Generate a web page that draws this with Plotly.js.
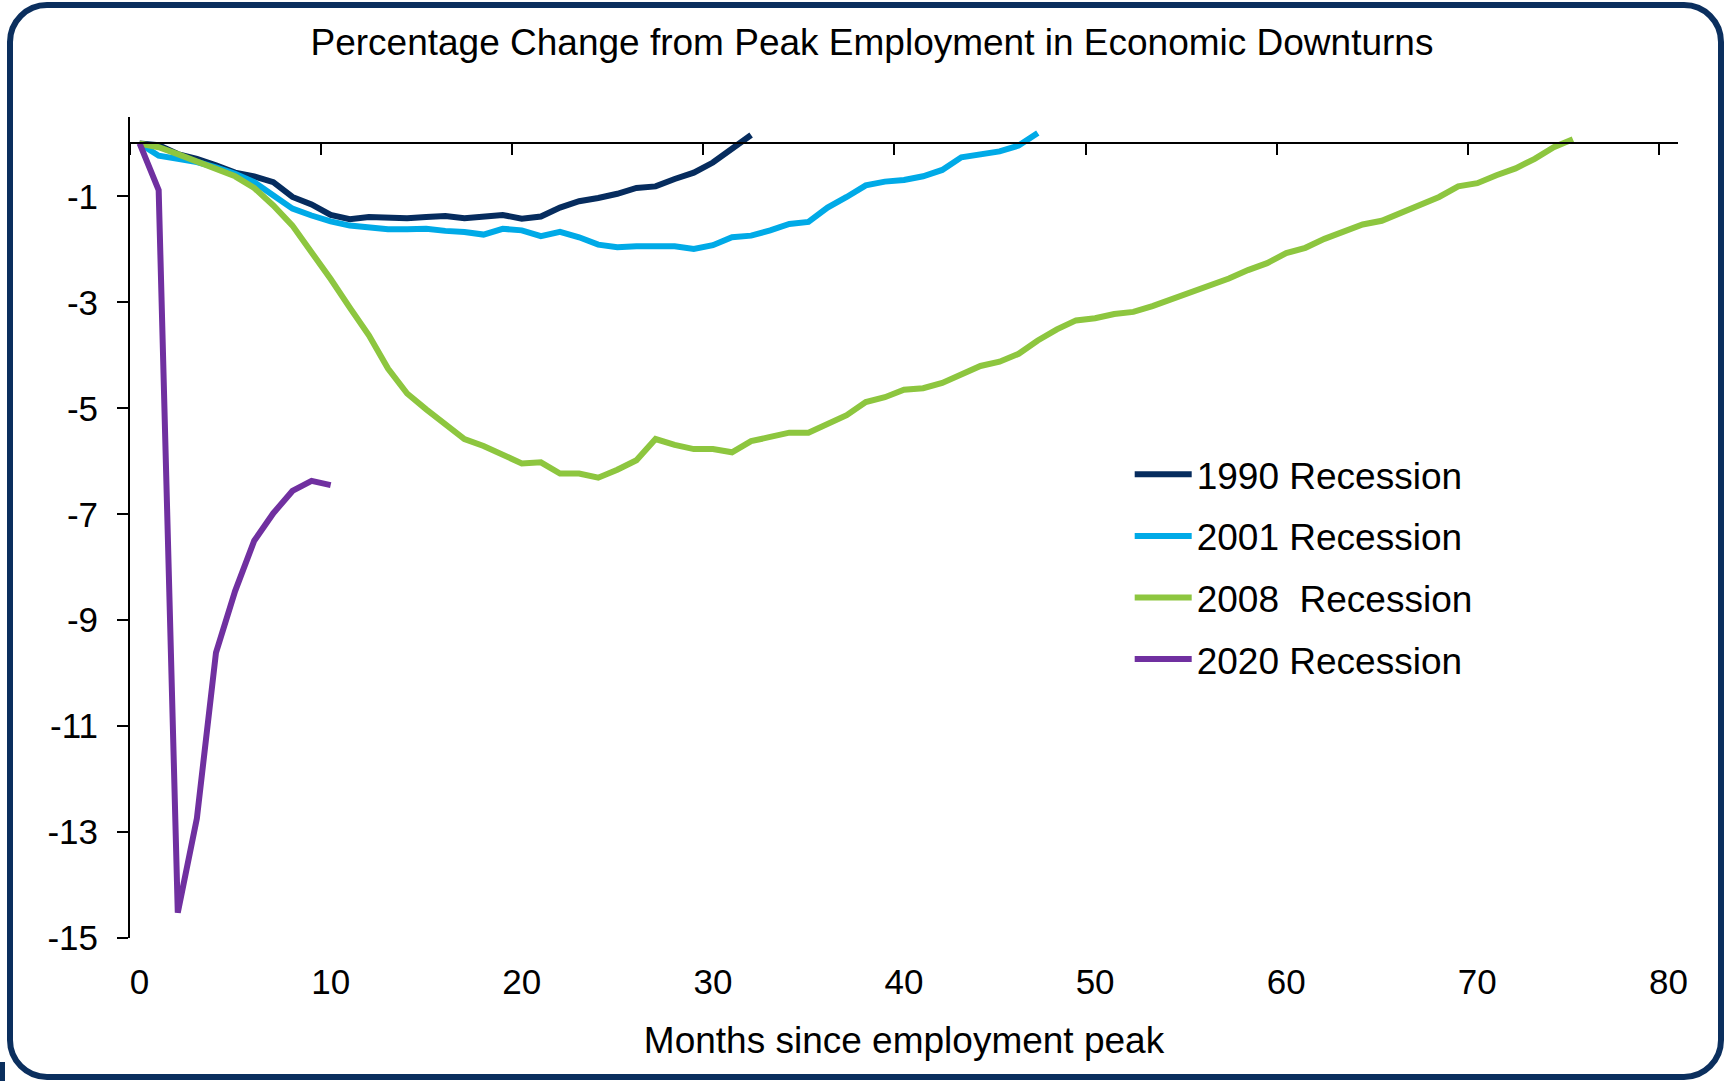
<!DOCTYPE html>
<html>
<head>
<meta charset="utf-8">
<script src="https://cdn.plot.ly/plotly-3.0.1.min.js"></script>
<style>
  html, body { margin: 0; padding: 0; background: #ffffff; }
  #wrap { position: relative; width: 1725px; height: 1081px; overflow: hidden; }
  #chart { position: absolute; left: 0; top: 0; width: 1725px; height: 1081px; }
  #frame { position: absolute; left: 7px; top: 2px; width: 1717px; height: 1078px; box-sizing: border-box;
           border: 6px solid #0B2F5E; border-radius: 40px; pointer-events: none; }
  #nick { position: absolute; left: 0; top: 1062px; width: 5px; height: 19px; background: #0B2F5E; }
</style>
</head>
<body>
<div id="wrap">
  <div id="chart"></div>
  <div id="frame"></div>
  <div id="nick"></div>
</div>
<script>
// Months since employment peak (category positions)
const months = [0,1,2,3,4,5,6,7,8,9,10,11,12,13,14,15,16,17,18,19,20,21,22,23,24,25,26,27,28,29,30,
  31,32,33,34,35,36,37,38,39,40,41,42,43,44,45,46,47,48,49,50,51,52,53,54,55,56,57,58,59,60,
  61,62,63,64,65,66,67,68,69,70,71,72,73,74,75];

// Percentage change from peak employment
const rec1990 = [0, -0.03, -0.2, -0.29, -0.41, -0.55, -0.62, -0.73, -1.01, -1.15, -1.35, -1.43, -1.39, -1.41,
  -1.41, -1.39, -1.37, -1.41, -1.39, -1.35, -1.42, -1.38, -1.21, -1.09, -1.03, -0.95, -0.84, -0.81, -0.67,
  -0.55, -0.36, -0.09, 0.16];

const rec2001 = [0, -0.23, -0.29, -0.35, -0.45, -0.57, -0.73, -0.99, -1.23, -1.36, -1.47, -1.55, -1.58, -1.62,
  -1.62, -1.61, -1.65, -1.67, -1.72, -1.61, -1.64, -1.75, -1.67, -1.77, -1.91, -1.96, -1.94, -1.94, -1.94,
  -1.99, -1.92, -1.77, -1.74, -1.64, -1.52, -1.48, -1.21, -1.01, -0.79, -0.72, -0.69, -0.62, -0.50, -0.26,
  -0.21, -0.15, -0.04, 0.20];

const rec2008 = [0, -0.07, -0.2, -0.34, -0.46, -0.62, -0.84, -1.17, -1.55, -2.04, -2.56, -3.1, -3.62, -4.25,
  -4.72, -5.02, -5.31, -5.58, -5.71, -5.87, -6.04, -6.02, -6.23, -6.23, -6.31, -6.16, -5.98, -5.58, -5.69,
  -5.77, -5.77, -5.83, -5.62, -5.54, -5.46, -5.46, -5.29, -5.13, -4.88, -4.79, -4.65, -4.62, -4.52, -4.36,
  -4.20, -4.12, -3.97, -3.72, -3.51, -3.34, -3.30, -3.22, -3.18, -3.07, -2.94, -2.79, -2.69, -2.55, -2.39,
  -2.26, -2.07, -1.97, -1.80, -1.66, -1.53, -1.46, -1.31, -1.15, -1.01, -0.81, -0.75, -0.60, -0.47, -0.29,
  -0.07, 0.08];

const rec2020 = [0, -0.88, -14.52, -12.74, -9.61, -8.45, -7.50, -6.98, -6.56, -6.37, -6.45];

const seriesNames = ['1990 Recession', '2001 Recession', '2008\u00a0 Recession', '2020 Recession'];
const seriesColors = ['#062C5E', '#00AAE7', '#8DC63F', '#7030A0'];
const seriesValues = [rec1990, rec2001, rec2008, rec2020];

const xTickVals = [0, 10, 20, 30, 40, 50, 60, 70, 80];
const xTickMarks = [-0.5, 9.5, 19.5, 29.5, 39.5, 49.5, 59.5, 69.5, 79.5];
const yTickVals = [-1, -3, -5, -7, -9, -11, -13, -15];

const FONT = '"Liberation Sans", Arial, Helvetica, sans-serif';

const traces = seriesValues.map((vals, i) => ({
  type: 'scatter',
  mode: 'lines',
  name: seriesNames[i],
  legendgroup: 'g' + i,
  x: months.slice(0, vals.length),
  y: vals,
  line: { color: seriesColors[i], width: 6 },
  hoverinfo: 'skip'
}));

const yMin = -15, yMax = 0.5;

const layout = {
  width: 1725,
  height: 1081,
  margin: { l: 130, r: 47, t: 117, b: 143, pad: 0 },
  paper_bgcolor: 'rgba(0,0,0,0)',
  plot_bgcolor: 'rgba(0,0,0,0)',
  font: { family: FONT, color: '#000000', size: 35 },
  title: {
    text: 'Percentage Change from Peak Employment in Economic Downturns',
    font: { family: FONT, size: 37, color: '#000000' },
    x: 0.5055, xanchor: 'center', xref: 'container',
    y: 0.961, yanchor: 'middle', yref: 'container'
  },
  showlegend: true,
  legend: {
    x: 0.6458, xanchor: 'left',
    y: 0.602, yanchor: 'top',
    font: { family: FONT, size: 37, color: '#000000' },
    bgcolor: 'rgba(0,0,0,0)',
    borderwidth: 0,
    traceorder: 'grouped',
    tracegroupgap: 10.5,
    itemwidth: 57
  },
  xaxis: {
    range: [-0.5, 80.5],
    tickmode: 'array',
    tickvals: xTickVals,
    ticktext: xTickVals.map(String),
    ticks: '',
    showline: false,
    showgrid: false,
    zeroline: false,
    tickfont: { family: FONT, size: 35, color: '#000000' },
    ticklabelstandoff: 20,
    title: { text: 'Months since employment peak', font: { family: FONT, size: 37, color: '#000000' }, standoff: 27 },
    fixedrange: true
  },
  xaxis2: {
    overlaying: 'x',
    matches: 'x',
    anchor: 'free',
    position: (0 - yMin) / (yMax - yMin),
    side: 'bottom',
    range: [-0.5, 80.5],
    tickmode: 'array',
    tickvals: xTickMarks,
    showticklabels: false,
    ticks: 'outside',
    ticklen: 11,
    tickwidth: 2,
    tickcolor: '#000000',
    showline: true,
    linewidth: 2,
    linecolor: '#000000',
    showgrid: false,
    zeroline: false
  },
  yaxis: {
    range: [yMin, yMax],
    tickmode: 'array',
    tickvals: yTickVals,
    ticktext: yTickVals.map(String),
    ticks: 'outside',
    ticklen: 11,
    tickwidth: 2,
    tickcolor: '#000000',
    showline: true,
    linewidth: 2,
    linecolor: '#000000',
    showgrid: false,
    zeroline: false,
    tickfont: { family: FONT, size: 35, color: '#000000' },
    ticklabelstandoff: 12,
    fixedrange: true
  }
};

// invisible helper trace so the zero-line axis (x2) is always drawn
traces.push({ type: 'scatter', mode: 'lines', x: [], y: [], xaxis: 'x2', yaxis: 'y', showlegend: false, hoverinfo: 'skip' });

Plotly.newPlot('chart', traces, layout, { displayModeBar: false, staticPlot: true });
</script>
</body>
</html>
